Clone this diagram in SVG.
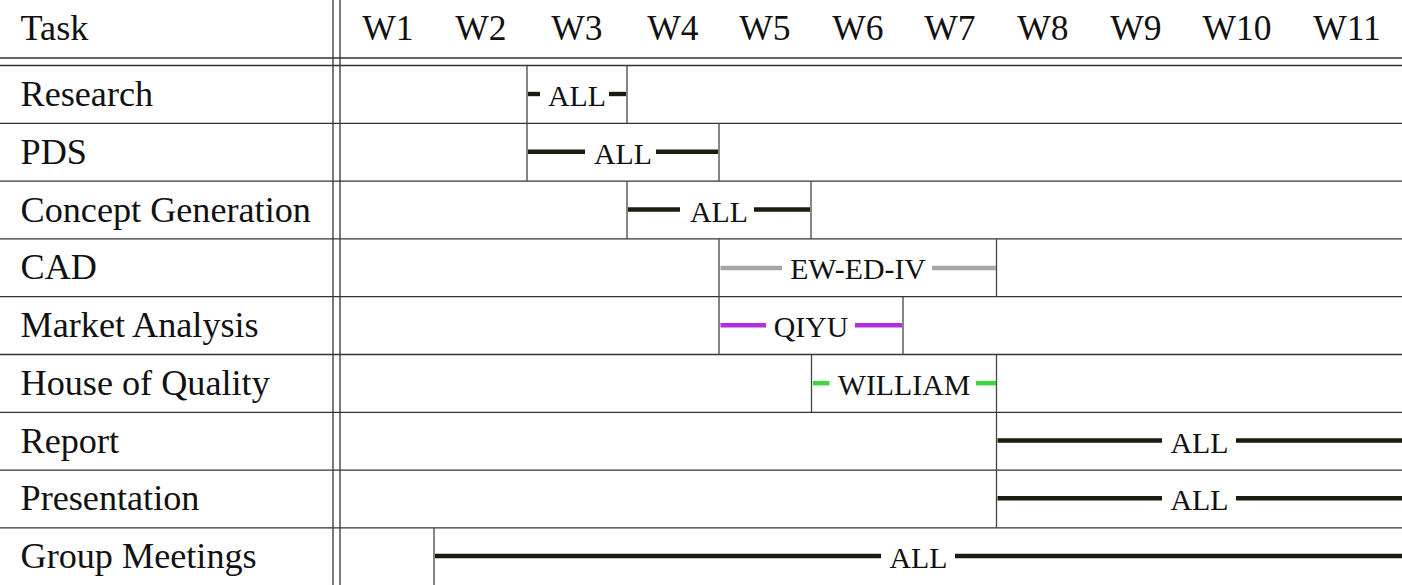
<svg xmlns="http://www.w3.org/2000/svg" width="1402" height="585" viewBox="0 0 1402 585">
<style>
.rule{stroke:#333;stroke-width:1.3;fill:none}
.cell{stroke:#444;stroke-width:1.3;fill:none}
.hd{font-family:"Liberation Serif","Times New Roman",serif;font-size:35.5px;fill:#111}
.tk{font-size:36.2px}
.hc{text-anchor:middle}
.lb{font-family:"Liberation Serif","Times New Roman",serif;font-size:29.8px;fill:#111;text-anchor:middle}
.bk{stroke:#1d1a10;stroke-width:4.4}
.gy{stroke:#a6a6a6;stroke-width:4.4}
.pu{stroke:#b02fe0;stroke-width:4.4}
.gr{stroke:#3ad83f;stroke-width:4.4}
</style>
<rect width="1402" height="585" fill="#fff"/>
<g id="grid">
<line class="rule" x1="333" y1="0" x2="333" y2="585"/>
<line class="rule" x1="340" y1="0" x2="340" y2="585"/>
<line class="rule" x1="0" y1="58" x2="1402" y2="58"/>
<line class="rule" x1="0" y1="65.5" x2="1402" y2="65.5"/>
<line class="rule" x1="0" y1="123.3" x2="1402" y2="123.3"/>
<line class="rule" x1="0" y1="181.1" x2="1402" y2="181.1"/>
<line class="rule" x1="0" y1="238.9" x2="1402" y2="238.9"/>
<line class="rule" x1="0" y1="296.7" x2="1402" y2="296.7"/>
<line class="rule" x1="0" y1="354.5" x2="1402" y2="354.5"/>
<line class="rule" x1="0" y1="412.3" x2="1402" y2="412.3"/>
<line class="rule" x1="0" y1="470.1" x2="1402" y2="470.1"/>
<line class="rule" x1="0" y1="527.9" x2="1402" y2="527.9"/>
</g>
<g id="header">
<text class="hd tk" x="20.5" y="40">Task</text>
<text class="hd hc" x="388" y="40">W1</text>
<text class="hd hc" x="481" y="40">W2</text>
<text class="hd hc" x="577" y="40">W3</text>
<text class="hd hc" x="673" y="40">W4</text>
<text class="hd hc" x="765" y="40">W5</text>
<text class="hd hc" x="858" y="40">W6</text>
<text class="hd hc" x="950" y="40">W7</text>
<text class="hd hc" x="1043" y="40">W8</text>
<text class="hd hc" x="1136" y="40">W9</text>
<text class="hd hc" x="1237" y="40">W10</text>
<text class="hd hc" x="1347" y="40">W11</text>
</g>
<g id="research">
<text class="hd tk" x="20.5" y="106">Research</text>
<line class="cell" x1="527" y1="65.5" x2="527" y2="123.3"/>
<line class="cell" x1="627" y1="65.5" x2="627" y2="123.3"/>
<line class="bk" x1="528" y1="94" x2="540" y2="94"/>
<line class="bk" x1="609" y1="94" x2="626" y2="94"/>
<text class="lb" x="577" y="106">ALL</text>
</g>
<g id="pds">
<text class="hd tk" x="20.5" y="163.8">PDS</text>
<line class="cell" x1="527" y1="123.3" x2="527" y2="181.1"/>
<line class="cell" x1="719" y1="123.3" x2="719" y2="181.1"/>
<line class="bk" x1="528" y1="151.7" x2="585" y2="151.7"/>
<line class="bk" x1="656" y1="151.7" x2="718" y2="151.7"/>
<text class="lb" x="623" y="163.8">ALL</text>
</g>
<g id="concept">
<text class="hd tk" x="20.5" y="221.6">Concept Generation</text>
<line class="cell" x1="627" y1="181.1" x2="627" y2="238.9"/>
<line class="cell" x1="811" y1="181.1" x2="811" y2="238.9"/>
<line class="bk" x1="628" y1="209.5" x2="680" y2="209.5"/>
<line class="bk" x1="754" y1="209.5" x2="810" y2="209.5"/>
<text class="lb" x="719" y="221.6">ALL</text>
</g>
<g id="cad">
<text class="hd tk" x="20.5" y="279.4">CAD</text>
<line class="cell" x1="719" y1="238.9" x2="719" y2="296.7"/>
<line class="cell" x1="996.5" y1="238.9" x2="996.5" y2="296.7"/>
<line class="gy" x1="720.5" y1="268" x2="782" y2="268"/>
<line class="gy" x1="932" y1="268" x2="996" y2="268"/>
<text class="lb" x="858" y="279.4">EW-ED-IV</text>
</g>
<g id="market">
<text class="hd tk" x="20.5" y="337.2">Market Analysis</text>
<line class="cell" x1="719" y1="296.7" x2="719" y2="354.5"/>
<line class="cell" x1="903" y1="296.7" x2="903" y2="354.5"/>
<line class="pu" x1="720.5" y1="325.3" x2="766" y2="325.3"/>
<line class="pu" x1="855" y1="325.3" x2="902" y2="325.3"/>
<text class="lb" x="811" y="337.2">QIYU</text>
</g>
<g id="house">
<text class="hd tk" x="20.5" y="395">House of Quality</text>
<line class="cell" x1="811.5" y1="354.5" x2="811.5" y2="412.3"/>
<line class="cell" x1="996.5" y1="354.5" x2="996.5" y2="412.3"/>
<line class="gr" x1="813" y1="383.2" x2="829.5" y2="383.2"/>
<line class="gr" x1="976" y1="383.2" x2="996" y2="383.2"/>
<text class="lb" x="904" y="395">WILLIAM</text>
</g>
<g id="report">
<text class="hd tk" x="20.5" y="452.6">Report</text>
<line class="cell" x1="996.5" y1="412.3" x2="996.5" y2="470.1"/>
<line class="bk" x1="997.5" y1="440.5" x2="1162" y2="440.5"/>
<line class="bk" x1="1236" y1="440.5" x2="1402" y2="440.5"/>
<text class="lb" x="1199.5" y="452.6">ALL</text>
</g>
<g id="presentation">
<text class="hd tk" x="20.5" y="510.4">Presentation</text>
<line class="cell" x1="996.5" y1="470.1" x2="996.5" y2="527.9"/>
<line class="bk" x1="997.5" y1="498.3" x2="1162" y2="498.3"/>
<line class="bk" x1="1236" y1="498.3" x2="1402" y2="498.3"/>
<text class="lb" x="1199.5" y="510.4">ALL</text>
</g>
<g id="meetings">
<text class="hd tk" x="20.5" y="568">Group Meetings</text>
<line class="cell" x1="434" y1="527.9" x2="434" y2="585"/>
<line class="bk" x1="435" y1="556" x2="881" y2="556"/>
<line class="bk" x1="955" y1="556" x2="1402" y2="556"/>
<text class="lb" x="918.5" y="568">ALL</text>
</g>
</svg>
